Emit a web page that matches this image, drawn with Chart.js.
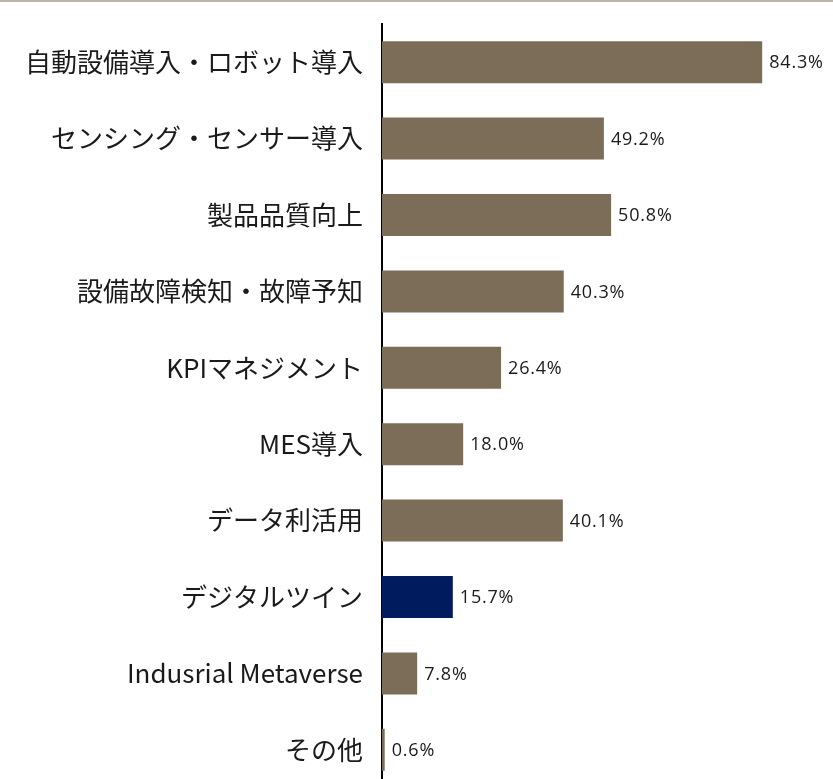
<!DOCTYPE html>
<html lang="ja">
<head>
<meta charset="utf-8">
<title>取り組み状況</title>
<script src="https://cdn.jsdelivr.net/npm/chart.js@4.4.1/dist/chart.umd.min.js"></script>
<style>
  html, body { margin: 0; padding: 0; background: #fff; overflow: hidden; }
  .topline { position: absolute; top: 0; left: 0; width: 833px; height: 2px; background: #bcb4a9; z-index: 2; }
  .wrap { position: absolute; top: 0; left: 0; width: 833px; height: 812px; }
</style>
</head>
<body>
<div class="topline"></div>
<div class="wrap"><canvas id="chart" width="833" height="812"></canvas></div>
<script>
// 項目と回答率（%）
const categories = [
  '自動設備導入・ロボット導入',
  'センシング・センサー導入',
  '製品品質向上',
  '設備故障検知・故障予知',
  'KPIマネジメント',
  'MES導入',
  'データ利活用',
  'デジタルツイン',
  'Indusrial Metaverse',
  'その他'
];
const values = [84.3, 49.2, 50.8, 40.3, 26.4, 18.0, 40.1, 15.7, 7.8, 0.6];
const highlight = 'デジタルツイン';

const BROWN = '#7b6d58';
const NAVY = '#001b5e';
const FONT = "'Noto Sans CJK JP', 'Noto Sans', sans-serif";

// バーの右側に値ラベルを描く
const valueLabels = {
  id: 'valueLabels',
  afterDatasetsDraw(chart) {
    const ctx = chart.ctx;
    const meta = chart.getDatasetMeta(0);
    ctx.save();
    ctx.font = "18px 'Open Sans', sans-serif";
    ctx.letterSpacing = '0.8px';
    ctx.fillStyle = '#1a1a1a';
    ctx.textAlign = 'left';
    ctx.textBaseline = 'middle';
    meta.data.forEach((bar, i) => {
      ctx.fillText(values[i].toFixed(1) + '%', bar.x + 7, bar.y + 1);
    });
    ctx.restore();
  }
};

const ctx = document.getElementById('chart').getContext('2d');
const chart = new Chart(ctx, {
  type: 'bar',
  data: {
    labels: categories,
    datasets: [{
      data: values,
      backgroundColor: categories.map(c => c === highlight ? NAVY : BROWN),
      barPercentage: 0.55,
      categoryPercentage: 1.0
    }]
  },
  options: {
    indexAxis: 'y',
    responsive: false,
    animation: false,
    layout: { padding: { top: 24, bottom: 24, left: 0, right: 0 } },
    plugins: {
      legend: { display: false },
      tooltip: { enabled: false }
    },
    scales: {
      x: {
        display: false,
        min: 0,
        max: 100
      },
      y: {
        grid: { display: false, drawTicks: false },
        border: { display: true, color: '#000', width: 2 },
        ticks: {
          color: '#1a1a1a',
          padding: 19,
          font: { family: FONT, size: 26 }
        },
        afterFit(scale) {
          scale.width = 382;
          // ラベルの張り出し分の余白は不要
          scale.paddingTop = 0;
          scale.paddingBottom = 0;
        }
      }
    }
  },
  plugins: [valueLabels]
});
</script>
</body>
</html>
